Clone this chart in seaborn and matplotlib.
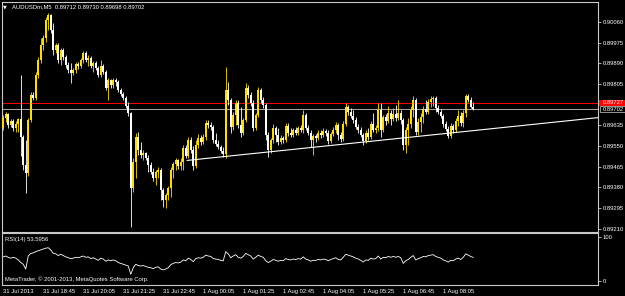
import numpy as np
import pandas as pd
import matplotlib
matplotlib.use("Agg")
import matplotlib.pyplot as plt
import seaborn as sns
from matplotlib import font_manager
from matplotlib.transforms import ScaledTranslation, blended_transform_factory
from matplotlib.patches import Rectangle

symbol = "AUDUSDm,M5"

open_ = [
    0.89624, 0.89665, 0.89682, 0.89636, 0.89653, 0.89624, 0.89641, 0.89661, 0.89587, 0.89472,
    0.89439, 0.89657, 0.89760, 0.89748, 0.89842, 0.89904, 0.89965, 0.89994, 0.90068, 0.90089,
    0.90027, 0.89945, 0.89965, 0.89904, 0.89945, 0.89916, 0.89883, 0.89863, 0.89850, 0.89863,
    0.89887, 0.89879, 0.89904, 0.89933, 0.89904, 0.89912, 0.89879, 0.89891, 0.89871, 0.89842,
    0.89879, 0.89854, 0.89789, 0.89822, 0.89801, 0.89822, 0.89813, 0.89780, 0.89764, 0.89748,
    0.89715, 0.89686, 0.89378, 0.89484, 0.89587, 0.89534, 0.89513, 0.89521, 0.89501, 0.89472,
    0.89443, 0.89418, 0.89443, 0.89451, 0.89369, 0.89328, 0.89349, 0.89378, 0.89451, 0.89476,
    0.89493, 0.89468, 0.89484, 0.89542, 0.89509, 0.89575, 0.89534, 0.89468, 0.89554, 0.89583,
    0.89567, 0.89587, 0.89645, 0.89636, 0.89628, 0.89575, 0.89558, 0.89546, 0.89530, 0.89517,
    0.89780, 0.89739, 0.89628, 0.89678, 0.89727, 0.89636, 0.89604, 0.89657, 0.89789, 0.89760,
    0.89727, 0.89624, 0.89678, 0.89780, 0.89739, 0.89719, 0.89595, 0.89534, 0.89575, 0.89624,
    0.89595, 0.89567, 0.89583, 0.89575, 0.89632, 0.89604, 0.89595, 0.89616, 0.89604, 0.89624,
    0.89616, 0.89678, 0.89624, 0.89604, 0.89575, 0.89591, 0.89583, 0.89604, 0.89595, 0.89612,
    0.89604, 0.89571, 0.89599, 0.89616, 0.89636, 0.89595, 0.89579, 0.89641, 0.89711, 0.89690,
    0.89673, 0.89657, 0.89628, 0.89616, 0.89595, 0.89571, 0.89604, 0.89587, 0.89641, 0.89616,
    0.89624, 0.89698, 0.89616, 0.89669, 0.89653, 0.89686, 0.89661, 0.89682, 0.89665, 0.89686,
    0.89657, 0.89554, 0.89616, 0.89641, 0.89698, 0.89739, 0.89608, 0.89649, 0.89669, 0.89702,
    0.89690, 0.89731, 0.89743, 0.89748, 0.89706, 0.89690, 0.89673, 0.89641, 0.89620, 0.89591,
    0.89632, 0.89616, 0.89653, 0.89673, 0.89645, 0.89686, 0.89756, 0.89739, 0.89712,
]
high = [
    0.89678, 0.89690, 0.89686, 0.89661, 0.89661, 0.89653, 0.89665, 0.89842, 0.89595, 0.89575,
    0.89665, 0.89772, 0.89772, 0.89854, 0.89916, 0.89994, 0.90007, 0.90081, 0.90097, 0.90093,
    0.90056, 0.89974, 0.89974, 0.89953, 0.89953, 0.89924, 0.89896, 0.89891, 0.89871, 0.89896,
    0.89896, 0.89912, 0.89941, 0.89941, 0.89924, 0.89920, 0.89900, 0.89900, 0.89879, 0.89904,
    0.89887, 0.89863, 0.89830, 0.89826, 0.89830, 0.89830, 0.89822, 0.89789, 0.89772, 0.89756,
    0.89731, 0.89690, 0.89501, 0.89604, 0.89608, 0.89567, 0.89534, 0.89525, 0.89513, 0.89484,
    0.89460, 0.89451, 0.89464, 0.89460, 0.89378, 0.89357, 0.89386, 0.89464, 0.89484, 0.89501,
    0.89497, 0.89501, 0.89554, 0.89554, 0.89587, 0.89587, 0.89550, 0.89575, 0.89599, 0.89595,
    0.89599, 0.89657, 0.89657, 0.89649, 0.89636, 0.89604, 0.89575, 0.89554, 0.89546, 0.89875,
    0.89813, 0.89748, 0.89690, 0.89739, 0.89739, 0.89711, 0.89665, 0.89809, 0.89801, 0.89772,
    0.89739, 0.89686, 0.89793, 0.89789, 0.89752, 0.89727, 0.89608, 0.89583, 0.89641, 0.89632,
    0.89624, 0.89595, 0.89591, 0.89645, 0.89645, 0.89624, 0.89624, 0.89628, 0.89632, 0.89636,
    0.89698, 0.89686, 0.89636, 0.89616, 0.89599, 0.89599, 0.89616, 0.89616, 0.89624, 0.89620,
    0.89616, 0.89608, 0.89628, 0.89649, 0.89645, 0.89608, 0.89653, 0.89727, 0.89719, 0.89706,
    0.89698, 0.89669, 0.89641, 0.89628, 0.89604, 0.89616, 0.89624, 0.89653, 0.89686, 0.89636,
    0.89727, 0.89727, 0.89678, 0.89682, 0.89715, 0.89698, 0.89706, 0.89719, 0.89739, 0.89698,
    0.89665, 0.89628, 0.89665, 0.89715, 0.89756, 0.89748, 0.89665, 0.89686, 0.89715, 0.89739,
    0.89743, 0.89756, 0.89756, 0.89756, 0.89719, 0.89702, 0.89682, 0.89653, 0.89632, 0.89645,
    0.89641, 0.89665, 0.89698, 0.89690, 0.89698, 0.89764, 0.89764, 0.89752, 0.89730,
]
low = [
    0.89616, 0.89649, 0.89624, 0.89628, 0.89612, 0.89608, 0.89608, 0.89509, 0.89451, 0.89357,
    0.89427, 0.89649, 0.89739, 0.89739, 0.89830, 0.89891, 0.89945, 0.89978, 0.90027, 0.90015,
    0.89924, 0.89933, 0.89891, 0.89883, 0.89904, 0.89871, 0.89850, 0.89809, 0.89842, 0.89850,
    0.89867, 0.89871, 0.89891, 0.89896, 0.89879, 0.89871, 0.89854, 0.89863, 0.89834, 0.89834,
    0.89846, 0.89780, 0.89739, 0.89789, 0.89789, 0.89797, 0.89772, 0.89756, 0.89739, 0.89706,
    0.89673, 0.89217, 0.89361, 0.89418, 0.89513, 0.89501, 0.89493, 0.89493, 0.89443, 0.89435,
    0.89406, 0.89390, 0.89418, 0.89328, 0.89299, 0.89295, 0.89328, 0.89340, 0.89418, 0.89451,
    0.89456, 0.89451, 0.89451, 0.89501, 0.89501, 0.89521, 0.89451, 0.89460, 0.89542, 0.89554,
    0.89558, 0.89575, 0.89624, 0.89616, 0.89562, 0.89550, 0.89538, 0.89521, 0.89505, 0.89501,
    0.89719, 0.89604, 0.89616, 0.89636, 0.89624, 0.89587, 0.89595, 0.89649, 0.89748, 0.89715,
    0.89612, 0.89616, 0.89669, 0.89727, 0.89706, 0.89575, 0.89505, 0.89521, 0.89562, 0.89567,
    0.89554, 0.89558, 0.89562, 0.89567, 0.89591, 0.89587, 0.89587, 0.89595, 0.89595, 0.89608,
    0.89604, 0.89616, 0.89595, 0.89546, 0.89513, 0.89567, 0.89575, 0.89583, 0.89587, 0.89591,
    0.89558, 0.89562, 0.89591, 0.89604, 0.89575, 0.89567, 0.89571, 0.89632, 0.89678, 0.89665,
    0.89645, 0.89620, 0.89604, 0.89587, 0.89554, 0.89562, 0.89575, 0.89579, 0.89608, 0.89604,
    0.89612, 0.89587, 0.89608, 0.89636, 0.89645, 0.89636, 0.89653, 0.89653, 0.89657, 0.89641,
    0.89534, 0.89521, 0.89554, 0.89624, 0.89669, 0.89595, 0.89595, 0.89608, 0.89645, 0.89682,
    0.89682, 0.89711, 0.89715, 0.89690, 0.89682, 0.89665, 0.89628, 0.89612, 0.89583, 0.89583,
    0.89604, 0.89608, 0.89632, 0.89632, 0.89628, 0.89669, 0.89731, 0.89708, 0.89698,
]
close = [
    0.89665, 0.89682, 0.89636, 0.89653, 0.89624, 0.89641, 0.89661, 0.89587, 0.89472, 0.89439,
    0.89657, 0.89760, 0.89748, 0.89842, 0.89904, 0.89965, 0.89994, 0.90068, 0.90089, 0.90027,
    0.89945, 0.89965, 0.89904, 0.89945, 0.89916, 0.89883, 0.89863, 0.89850, 0.89863, 0.89887,
    0.89879, 0.89904, 0.89933, 0.89904, 0.89912, 0.89879, 0.89891, 0.89871, 0.89842, 0.89879,
    0.89854, 0.89789, 0.89822, 0.89801, 0.89822, 0.89813, 0.89780, 0.89764, 0.89748, 0.89715,
    0.89686, 0.89378, 0.89484, 0.89587, 0.89534, 0.89513, 0.89521, 0.89501, 0.89472, 0.89443,
    0.89418, 0.89443, 0.89451, 0.89369, 0.89328, 0.89349, 0.89378, 0.89451, 0.89476, 0.89493,
    0.89468, 0.89484, 0.89542, 0.89509, 0.89575, 0.89534, 0.89468, 0.89554, 0.89583, 0.89567,
    0.89587, 0.89645, 0.89636, 0.89628, 0.89575, 0.89558, 0.89546, 0.89530, 0.89517, 0.89780,
    0.89739, 0.89628, 0.89678, 0.89727, 0.89636, 0.89604, 0.89657, 0.89789, 0.89760, 0.89727,
    0.89624, 0.89678, 0.89780, 0.89739, 0.89719, 0.89595, 0.89534, 0.89575, 0.89624, 0.89595,
    0.89567, 0.89583, 0.89575, 0.89632, 0.89604, 0.89595, 0.89616, 0.89604, 0.89624, 0.89616,
    0.89678, 0.89624, 0.89604, 0.89575, 0.89591, 0.89583, 0.89604, 0.89595, 0.89612, 0.89604,
    0.89571, 0.89599, 0.89616, 0.89636, 0.89595, 0.89579, 0.89641, 0.89711, 0.89690, 0.89673,
    0.89657, 0.89628, 0.89616, 0.89595, 0.89571, 0.89604, 0.89587, 0.89641, 0.89616, 0.89624,
    0.89698, 0.89616, 0.89669, 0.89653, 0.89686, 0.89661, 0.89682, 0.89665, 0.89686, 0.89657,
    0.89554, 0.89616, 0.89641, 0.89698, 0.89739, 0.89608, 0.89649, 0.89669, 0.89702, 0.89690,
    0.89731, 0.89743, 0.89748, 0.89706, 0.89690, 0.89673, 0.89641, 0.89620, 0.89591, 0.89632,
    0.89616, 0.89653, 0.89673, 0.89645, 0.89686, 0.89756, 0.89739, 0.89712, 0.89702,
]
rsi = [
    55, 57, 54, 52, 54, 52, 48, 42, 38, 27,
    57, 63, 64, 67, 69, 71, 73, 75, 76, 71,
    63, 62, 58, 61, 58, 55, 53, 51, 52, 54,
    53, 55, 57, 54, 55, 51, 53, 50, 47, 52,
    50, 45, 48, 46, 48, 46, 42, 40, 38, 36,
    34, 15, 30, 38, 35, 34, 35, 33, 31, 30,
    28, 31, 32, 27, 25, 27, 30, 37, 40, 42,
    41, 43, 48, 46, 52, 49, 44, 51, 53, 52,
    54, 59, 57, 56, 51, 50, 49, 47, 46, 67,
    62, 53, 57, 60, 54, 52, 56, 63, 60, 57,
    50, 54, 59, 56, 54, 46, 42, 45, 49, 47,
    45, 47, 46, 51, 49, 48, 50, 49, 51, 50,
    55, 50, 48, 45, 47, 47, 49, 48, 50, 49,
    46, 49, 51, 53, 49, 48, 54, 61, 59, 57,
    55, 52, 50, 47, 43, 48, 47, 52, 50, 51,
    57, 50, 54, 53, 56, 54, 56, 54, 56, 53,
    40, 46, 49, 54, 58, 48, 51, 53, 56, 55,
    58, 59, 60, 56, 54, 52, 48, 46, 43, 47,
    46, 50, 52, 49, 54, 62, 59, 56, 53.5956,
]

ask_price = 0.89727
bid_price = 0.89702
trend_bars = [73.5, 238.0]
trend_prices = [0.89491, 0.89667]
price_ticks = [0.90060, 0.89975, 0.89890, 0.89805, 0.89635,
               0.89550, 0.89465, 0.89380, 0.89295, 0.89210]
rsi_ticks = [100, 0]
time_tick_bars = [0, 16, 32, 48, 64, 80, 96, 112, 128, 144, 160, 176]
time_labels = ["31 Jul 2013", "31 Jul 18:45", "31 Jul 20:05", "31 Jul 21:25",
               "31 Jul 22:45", "1 Aug 00:05", "1 Aug 01:25", "1 Aug 02:45",
               "1 Aug 04:05", "1 Aug 05:25", "1 Aug 06:45", "1 Aug 08:05"]

n = len(close)
assert len(open_) == n and len(high) == n and len(low) == n and len(rsi) == n

sns.set_theme(style="dark", rc={
    "axes.facecolor": "black", "figure.facecolor": "black",
    "axes.edgecolor": "#c8c8c8", "text.color": "white",
    "xtick.color": "#c8c8c8", "ytick.color": "#c8c8c8",
    "axes.grid": False,
})
installed = {f.name for f in font_manager.fontManager.ttflist}
if "Liberation Sans Narrow" in installed:
    plt.rcParams["font.family"] = ["Liberation Sans Narrow", "DejaVu Sans"]
    FS = 4.9
else:
    plt.rcParams["font.family"] = ["Liberation Sans", "DejaVu Sans"]
    FS = 4.2

W, H = 625, 296
fig = plt.figure(figsize=(W / 100, H / 100), dpi=100, facecolor="black")
ax = fig.add_axes([2 / W, (H - 231.5) / H, 596 / W, 229.5 / H])
ax2 = fig.add_axes([2 / W, (H - 285) / H, 596 / W, 52 / H])

df = pd.DataFrame(dict(bar=np.arange(n), o=open_, h=high, l=low, c=close, rsi=rsi))
up = df["c"] >= df["o"]
bull, bear = "#ffdd00", "#ffffff"
colors = np.where(up, bull, bear)

ax.vlines(df["bar"], df["l"], df["h"], colors=colors, lw=0.6, zorder=3)
body = (df["c"] - df["o"]).abs().clip(lower=0.000015)
ax.bar(df["bar"], body, bottom=np.minimum(df["o"], df["c"]), width=0.75,
       color=colors, linewidth=0, zorder=3)

ax.axhline(ask_price, color="#ff0000", lw=0.75, zorder=2)
ax.axhline(bid_price, color="#a0a0a8", lw=0.75, zorder=2)
sns.lineplot(x=trend_bars, y=trend_prices, ax=ax, color="white", lw=0.8, zorder=4)

sns.lineplot(x=df["bar"], y=df["rsi"], ax=ax2, color="white", lw=0.6)

for a in (ax, ax2):
    a.set_facecolor("black")
    a.set_xlim(-0.5, 237.9)
    a.set_xlabel("")
    a.set_ylabel("")
    for s in a.spines.values():
        s.set_color("#c8c8c8")
        s.set_linewidth(0.8)

ax.set_ylim(0.89199, 0.90142)
ax.set_xticks([])
ax.yaxis.tick_right()
ax.set_yticks(price_ticks, [f"{t:.5f}" for t in price_ticks])
ax.tick_params(axis="y", length=2, width=0.6, pad=1.2, labelsize=FS, labelcolor="white")

ax2.set_ylim(-9.7, 109.9)
ax2.yaxis.tick_right()
ax2.set_yticks(rsi_ticks, [str(t) for t in rsi_ticks])
ax2.tick_params(axis="y", length=2, width=0.6, pad=1.2, labelsize=FS, labelcolor="white")
ax2.set_xticks(np.array(time_tick_bars) - 0.5, time_labels)
ax2.tick_params(axis="x", length=2.5, width=0.6, pad=0.6, labelsize=FS, labelcolor="white")
off = ScaledTranslation(1.2 / 100, 0, fig.dpi_scale_trans)
for lbl in ax2.get_xticklabels():
    lbl.set_horizontalalignment("left")
    lbl.set_transform(lbl.get_transform() + off)

# ask / bid price labels on the right scale
bt = blended_transform_factory(fig.transFigure, ax.transData)
px = (0.90142 - 0.89199) / 229.5
ax.add_patch(Rectangle((599 / W, ask_price - 3.3 * px), 26 / W, 6.6 * px, transform=bt,
                       facecolor="#ff0000", edgecolor="none", clip_on=False, zorder=6))
ax.text(602.5 / W, ask_price, f"{ask_price:.5f}", transform=bt, color="white",
        fontsize=FS, va="center", ha="left", clip_on=False, zorder=7)
ax.add_patch(Rectangle((599.5 / W, bid_price - 2.7 * px), 25 / W, 5.4 * px, transform=bt,
                       facecolor="black", edgecolor="#d0d0d0", lw=0.5, clip_on=False, zorder=6))
ax.text(602.5 / W, bid_price, f"{bid_price:.5f}", transform=bt, color="white",
        fontsize=FS, va="center", ha="left", clip_on=False, zorder=7)

fig.text(3 / W, 1 - 6.5 / H, "\u25bc", fontsize=3.5, color="white", va="center",
         family=["DejaVu Sans"])
fig.text(12 / W, 1 - 6.7 / H,
         f"{symbol}  {open_[-1]:.5f} {high[-1]:.5f} {low[-1]:.5f} {close[-1]:.5f}",
         fontsize=FS, color="white", va="center")
fig.text(5 / W, 1 - 239 / H, f"RSI(14) {rsi[-1]:.4f}", fontsize=FS, color="white", va="center")
fig.text(5 / W, 1 - 279.5 / H, "MetaTrader, \u00a9 2001-2013, MetaQuotes Software Corp.",
         fontsize=FS, color="white", va="center")

fig.savefig("out.png", dpi=100, facecolor="black")
